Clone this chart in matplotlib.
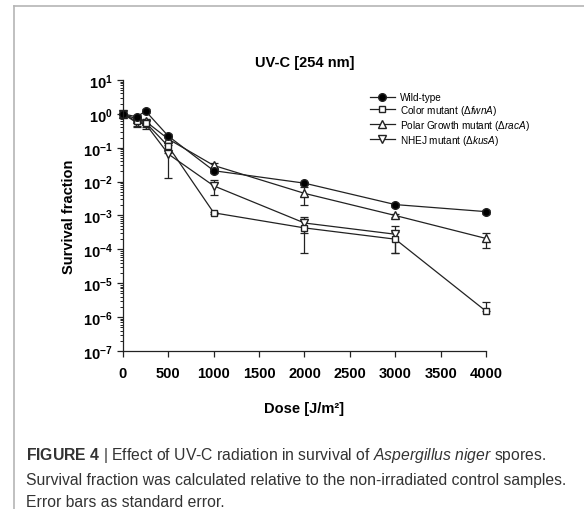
import math
import matplotlib
matplotlib.use('Agg')
from matplotlib import pyplot as plt
from matplotlib.lines import Line2D
from matplotlib.ticker import FixedLocator, LogLocator, FuncFormatter, NullFormatter

plt.rcParams['font.family'] = 'Liberation Sans'
plt.rcParams['mathtext.fontset'] = 'custom'
plt.rcParams['mathtext.rm'] = 'Liberation Sans'
plt.rcParams['mathtext.it'] = 'Liberation Sans:italic'
plt.rcParams['mathtext.bf'] = 'Liberation Sans:bold'

# UV-C dose [J/m2] and survival fraction (mean, standard error)
dose = [0, 150, 250, 500, 1000, 2000, 3000, 4000]

wild_type = [1.0, 0.82, 1.2, 0.22, 0.021, 0.009, 0.0021, 0.0013]
wild_type_err = [0, 0.1, 0.15, 0.03, 0.003, 0.001, 0.0003, 0.0002]

color_mut = [1.0, 0.6, 0.55, 0.11, 0.0012, 0.00043, 0.0002, 1.5e-6]
color_err_lo = [0, 0.15, 0.15, 0.04, 0.0001, 0.00035, 0.00012, 0]
color_err_hi = [0, 0.15, 0.15, 0.04, 0.0001, 0.00035, 0.00012, 1.3e-6]

polar_mut = [1.0, 0.7, 0.6, 0.18, 0.03, 0.0045, 0.001, 0.00021]
polar_err = [0, 0.1, 0.1, 0.03, 0.005, 0.0025, 0.0001, 0.0001]

# NHEJ mutant was not measured at 4000 J/m2
nhej_dose = [0, 150, 250, 500, 1000, 2000, 3000]
nhej_mut = [1.0, 0.55, 0.5, 0.065, 0.0075, 0.0006, 0.00028]
nhej_err = [0, 0.15, 0.15, 0.052, 0.0035, 0.0003, 0.0002]

labels = ['Wild-type',
          r'Color mutant ($\Delta\mathit{fwnA}$)',
          r'Polar Growth mutant ($\Delta\mathit{racA}$)',
          r'NHEJ mutant ($\Delta\mathit{kusA}$)']
markers = ['o', 's', '^', 'v']
faces = ['black', 'white', 'white', 'white']
sizes = [5.5, 5, 5.5, 5.5]

ink = '#222222'

fig = plt.figure(figsize=(5.84, 5.1), dpi=100)
ax = fig.add_axes([0.2106, 0.3098, 0.6216, 0.5314])

style = dict(color=ink, lw=0.9, capsize=3, elinewidth=0.9,
             capthick=0.9, clip_on=False)
ax.errorbar(dose, polar_mut, yerr=polar_err, marker=markers[2], mfc=faces[2],
            ms=sizes[2], **style)
ax.errorbar(nhej_dose, nhej_mut, yerr=nhej_err, marker=markers[3], mfc=faces[3],
            ms=sizes[3], **style)
ax.errorbar(dose, color_mut, yerr=[color_err_lo, color_err_hi], marker=markers[1],
            mfc=faces[1], ms=sizes[1], **style)
ax.errorbar(dose, wild_type, yerr=wild_type_err, marker=markers[0], mfc=faces[0],
            ms=sizes[0], **style)

ax.set_yscale('log')
ax.set_ylim(1e-7, 10)
ax.set_xlim(0, 4000)
ax.xaxis.set_major_locator(FixedLocator(range(0, 4001, 500)))
ax.yaxis.set_major_locator(LogLocator(base=10, numticks=20))
ax.yaxis.set_minor_locator(LogLocator(base=10, subs=range(2, 10), numticks=20))
ax.yaxis.set_minor_formatter(NullFormatter())
ax.yaxis.set_major_formatter(FuncFormatter(
    lambda v, pos: r'$\mathbf{10^{%d}}$' % round(math.log10(v))))

for side in ('top', 'right'):
    ax.spines[side].set_visible(False)
for side in ('left', 'bottom'):
    ax.spines[side].set_linewidth(0.9)
    ax.spines[side].set_color(ink)
ax.tick_params(axis='both', which='major', direction='out', length=4,
               width=0.9, labelsize=10.5, color=ink)
ax.tick_params(axis='x', which='major', pad=7)
ax.tick_params(axis='y', which='minor', direction='out', length=2.2,
               width=0.7, color=ink)
for lbl in ax.get_xticklabels():
    lbl.set_fontweight('bold')

ax.set_title('UV-C [254 nm]', fontsize=10.5, fontweight='bold', pad=10)
ax.set_xlabel('Dose [J/m²]', fontsize=10.5, fontweight='bold', labelpad=15)
ax.set_ylabel('Survival fraction', fontsize=10.5, fontweight='bold', labelpad=5)

# legend shows plain line + marker, no error bars
handles = [Line2D([], [], color=ink, lw=0.9, marker=m, mfc=f, mec=ink, ms=s)
           for m, f, s in zip(markers, faces, sizes)]
ax.legend(handles, labels, loc='upper left', bbox_to_anchor=(0.68, 0.955),
          frameon=False, fontsize=7.2, handlelength=2.5, handletextpad=0.5,
          labelspacing=0.08, borderaxespad=0, borderpad=0)

# caption under the chart
cap_kw = dict(fontsize=11.3, color='#333333', ha='left', va='baseline')
fig.text(0.045, 1 - 460 / 510,
         r'$\mathbf{FIGURE\ 4}$ | Effect of UV-C radiation in survival of '
         r'$\mathit{Aspergillus\ niger}$ spores.', **cap_kw)
fig.text(0.045, 1 - 485 / 510,
         'Survival fraction was calculated relative to the non-irradiated control samples.',
         **cap_kw)
fig.text(0.045, 1 - 507 / 510, 'Error bars as standard error.', **cap_kw)

# light grey frame along the left and top edges
fig.add_artist(Line2D([14 / 584, 14 / 584], [0, 1 - 7 / 510],
                      transform=fig.transFigure, color='#b5b5b5', lw=1.2))
fig.add_artist(Line2D([14 / 584, 1], [1 - 7 / 510, 1 - 7 / 510],
                      transform=fig.transFigure, color='#b5b5b5', lw=1.2))

fig.savefig('out.png', dpi=100)
